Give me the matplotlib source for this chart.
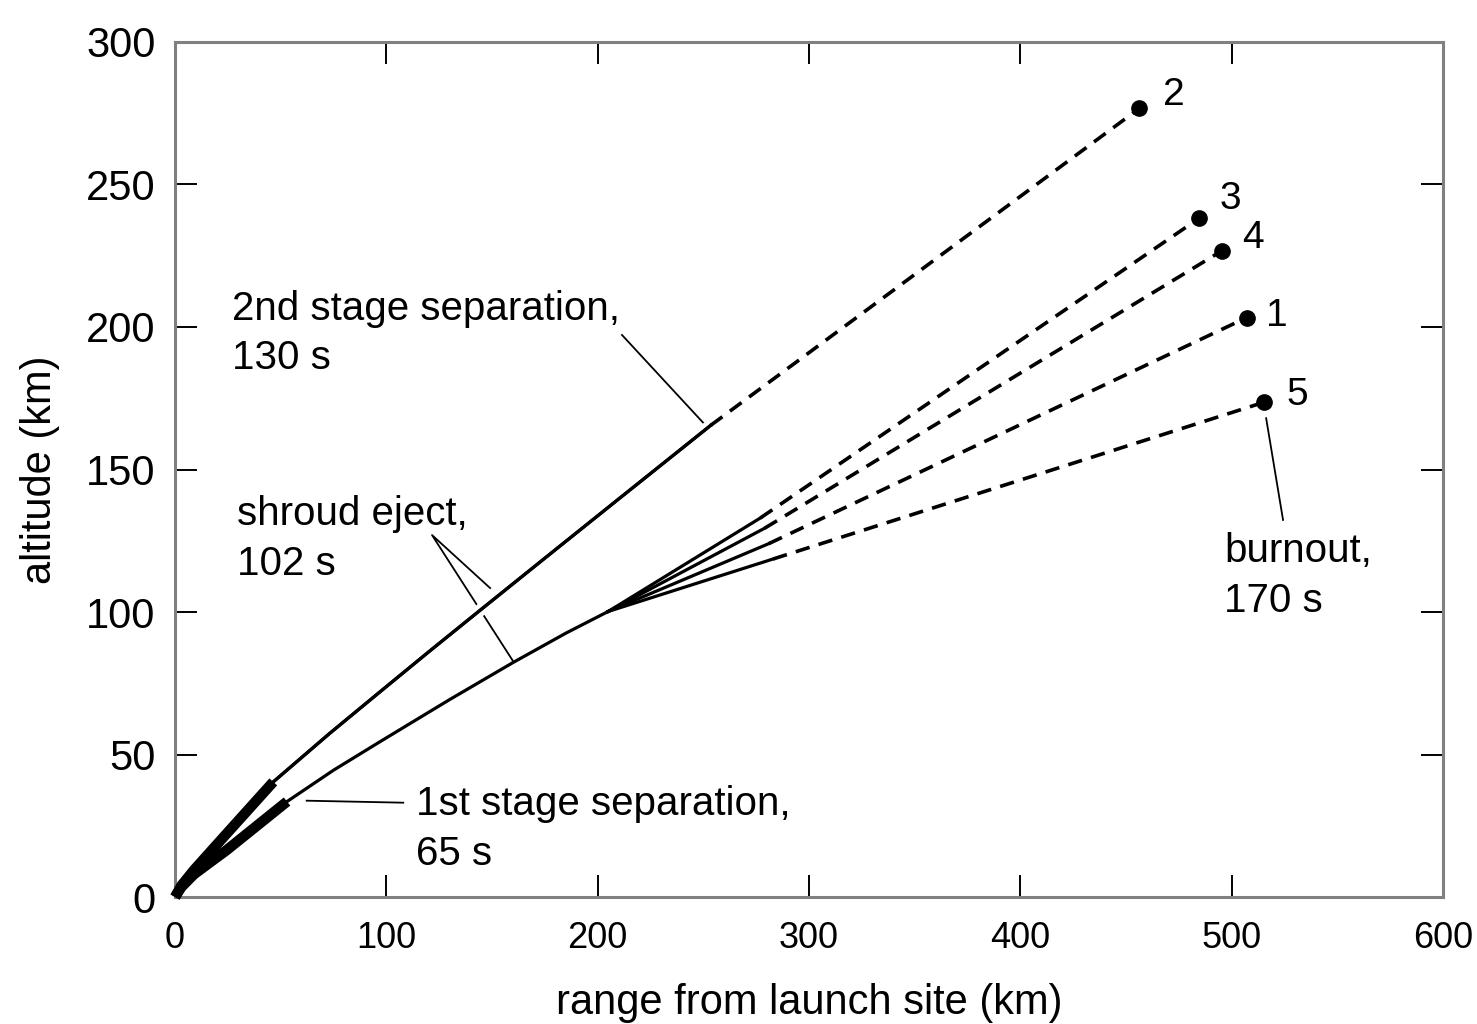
import numpy as np
import matplotlib.pyplot as plt
from matplotlib import patheffects

plt.rcParams['font.family'] = ['Liberation Sans', 'DejaVu Sans']

# trajectory 2 (lofted), range / altitude in km
traj2_s1_x = [0, 3, 9, 24.5, 46.5]
traj2_s1_y = [0, 4, 9.5, 22.3, 40.4]
traj2_s2_x = [46.5, 73, 97, 120, 144, 174, 210, 253.5]
traj2_s2_y = [40.4, 57.3, 72.0, 86.0, 100.4, 118.3, 139.7, 165.5]
traj2_burnout = (456.3, 276.7)

# trajectories 3, 4, 1, 5 share the same path up to ~205 km
common_s1_x = [0, 3, 9, 24.5, 53]
common_s1_y = [0, 3.5, 8, 16.5, 33.5]
common_s2_x = [53, 75, 97, 130, 160, 185, 205]
common_s2_y = [33.5, 44.5, 54.5, 69.3, 82.3, 92.6, 100.2]

branch_names = ["3", "4", "1", "5"]
branch_sep_x = [277, 279, 281, 283]
branch_sep_y = [133.0, 129.4, 124.0, 118.6]
burnout_x = [484.5, 495.3, 507.1, 515.3]
burnout_y = [238.1, 226.7, 203.3, 173.6]

fig = plt.figure(figsize=(14.77, 10.24), dpi=100)
ax = fig.add_axes([0.1185, 0.124, 0.8585, 0.835])

thin = 2.3
thick = 7.5
dash = (0, (4, 2.6))
halo = [patheffects.withStroke(linewidth=9, foreground="white"), patheffects.Normal()]

# first stage burns (thick)
ax.plot(traj2_s1_x, traj2_s1_y, color="black", lw=thick, solid_capstyle="butt", zorder=4, clip_on=False)
ax.plot(common_s1_x, common_s1_y, color="black", lw=thick, solid_capstyle="butt", zorder=4, clip_on=False)

# second stage (thin solid)
ax.plot(traj2_s2_x, traj2_s2_y, color="black", lw=thin, zorder=3, path_effects=halo)
ax.plot(common_s2_x, common_s2_y, color="black", lw=thin, zorder=3)
for i in range(len(branch_names)):
    ax.plot([common_s2_x[-1], branch_sep_x[i]], [common_s2_y[-1], branch_sep_y[i]],
            color="black", lw=thin, zorder=3)

# third stage (dashed) and burnout points
ax.plot([traj2_s2_x[-1], traj2_burnout[0]], [traj2_s2_y[-1], traj2_burnout[1]],
        color="black", lw=2.6, linestyle=dash, zorder=3)
ax.plot(*traj2_burnout, "o", color="black", ms=11, zorder=5)
ax.annotate("2", traj2_burnout, xytext=(17, 10), textcoords="offset points",
            fontsize=28, va="center", ha="left")

label_offsets = {"3": (15, 14), "4": (15, 9), "1": (14, 1), "5": (16, 5)}
for i, name in enumerate(branch_names):
    ax.plot([branch_sep_x[i], burnout_x[i]], [branch_sep_y[i], burnout_y[i]],
            color="black", lw=2.6, linestyle=dash, zorder=3)
    ax.plot(burnout_x[i], burnout_y[i], "o", color="black", ms=11, zorder=5)
    ax.annotate(name, (burnout_x[i], burnout_y[i]), xytext=label_offsets[name],
                textcoords="offset points", fontsize=28, va="center", ha="left")

# event annotations
ts = 29
ls = 1.38
ax.text(27, 197.7, "2nd stage separation,\n130 s", fontsize=ts, va="center", ha="left", linespacing=ls)
ax.plot([211.5, 251.8], [197.2, 164.9], color="black", lw=1.3, zorder=2)

ax.text(29.3, 125.6, "shroud eject,\n102 s", fontsize=ts, va="center", ha="left", linespacing=ls)
ax.plot([149.1, 121.6, 160.1], [108.4, 127.0, 82.6], color="black", lw=1.3, zorder=2)

ax.text(114, 23.9, "1st stage separation,\n65 s", fontsize=ts, va="center", ha="left", linespacing=ls)
ax.plot([62.3, 108], [33.8, 33.1], color="black", lw=1.3, zorder=2)

ax.text(496.4, 112.6, "burnout,\n170 s", fontsize=ts, va="center", ha="left", linespacing=ls)
ax.plot([516.3, 524.3], [168, 132.3], color="black", lw=1.3, zorder=2)

ax.set_xlim(0, 600)
ax.set_ylim(0, 300)
ax.set_xticks(np.arange(0, 601, 100))
ax.set_yticks(np.arange(0, 301, 50))
ax.tick_params(direction="in", length=16, width=1.4, color="black",
               top=True, right=True)
ax.tick_params(axis="y", labelsize=30, pad=14)
ax.tick_params(axis="x", labelsize=26, pad=17)
for sp in ax.spines.values():
    sp.set_color("#808080")
    sp.set_linewidth(2.2)

ax.set_xlabel("range from launch site (km)", fontsize=30, labelpad=20)
ax.set_ylabel("altitude (km)", fontsize=30, labelpad=19)

fig.savefig("out.png", dpi=100)
